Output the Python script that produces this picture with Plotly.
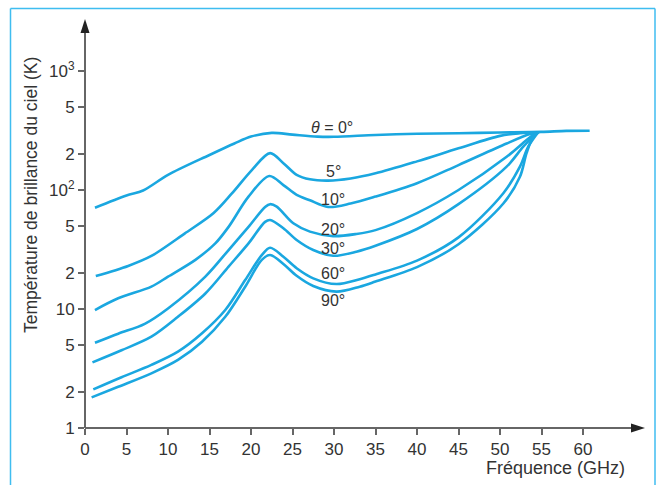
import math
import plotly.graph_objects as go

# Sky brightness temperature vs frequency for several elevation angles
freq_0 = [1.2, 5, 7, 10, 15, 18, 20, 22.5, 25, 28, 30, 35, 40, 45, 50, 55, 58, 60.8]
temp_0 = [71, 90, 99, 134, 197, 246, 281, 302, 292, 281, 280, 290, 297, 300, 304, 308, 314, 315]

freq_5 = [1.3, 5.2, 8, 12, 15.5, 17.7, 20.1, 22.3, 23.9, 25.5, 27.1, 29.3, 32, 35, 40, 45, 50, 52.4, 54.4]
temp_5 = [18.9, 23, 27.9, 43, 64, 93.5, 147, 204, 168, 134, 123, 120, 125, 138, 174, 224, 285, 300, 306]

freq_10 = [1.2, 4.0, 8, 10, 13.3, 15.7, 17.3, 19.7, 22.2, 23.9, 25.5, 27.1, 29.3, 32, 35, 40, 45, 50.8, 53.6, 54.6]
temp_10 = [9.8, 12.3, 15.4, 18.7, 25.9, 35.6, 49, 88, 131, 110, 91, 82, 72, 77, 88, 114, 162, 246, 295, 306]

freq_20 = [1.2, 4.0, 7.2, 10, 14.5, 17.3, 19.7, 21.7, 22.3, 23.1, 25.1, 27.1, 29.9, 32.7, 35, 40, 45, 50.8, 53.2, 54.4]
temp_20 = [5.2, 6.2, 7.5, 10.1, 18.7, 31.3, 49, 72, 76, 72.5, 52.5, 44.7, 41, 42.7, 46, 64, 100, 190, 263, 305]

freq_30 = [0.9, 4.4, 8, 11.2, 14.5, 17.3, 19.7, 21.7, 22.3, 23.9, 25.5, 27.5, 29.9, 32.7, 35, 40, 45, 50.8, 52.8, 54.5]
temp_30 = [3.56, 4.5, 5.85, 8.6, 13.5, 22.7, 35.6, 54, 56, 47.7, 38, 31.3, 28, 30.3, 34, 47, 76, 157, 231, 305]

freq_60 = [1.0, 4.4, 8, 11.2, 14.1, 16.9, 19.3, 21.3, 22.3, 23.9, 25.5, 27.5, 30.3, 33.1, 35, 40, 45, 50.4, 52.4, 53.4, 54.6]
temp_60 = [2.11, 2.67, 3.39, 4.38, 6.25, 9.8, 17.5, 28.4, 32.7, 27.5, 22, 18.1, 16.2, 17.8, 19.5, 25.5, 40, 94, 157, 231, 306]

freq_90 = [0.8, 4.0, 8, 11.2, 14.1, 16.9, 19.3, 21.3, 22.3, 23.9, 25.5, 27.5, 30.3, 33.1, 35, 40, 45, 50.4, 52.4, 53.2, 54, 54.7]
temp_90 = [1.81, 2.22, 2.88, 3.73, 5.3, 8.6, 15.4, 25.9, 28.4, 23.9, 19, 15.6, 14, 15.4, 17, 22.5, 35, 77, 129, 204, 281, 306]

# Curve labels: text, x, y
label_text = ["<i>θ</i> = 0°", "5°", "10°", "20°", "30°", "60°", "90°"]
label_x = [29.8, 29.9, 29.9, 29.9, 29.9, 29.9, 29.9]
label_y = [338, 143, 83.5, 46.8, 32.4, 19.7, 11.7]

x_ticks = list(range(0, 61, 5))
y_ticks = [1, 2, 5, 10, 20, 50, 100, 200, 500, 1000]
y_tick_text = ["1", "2", "5", "10", "2", "5", "10<sup>2</sup>", "2", "5", "10<sup>3</sup>"]

LINE = "#1aa7e0"
AXIS = "#666666"
TXT = "#333333"
FONT = "Liberation Sans, Arial, sans-serif"

fig = go.Figure()
series = [(freq_0, temp_0), (freq_5, temp_5), (freq_10, temp_10), (freq_20, temp_20),
          (freq_30, temp_30), (freq_60, temp_60), (freq_90, temp_90)]
for fx, ty in series:
    fig.add_trace(go.Scatter(x=fx, y=ty, mode="lines",
                             line=dict(color=LINE, width=2.6, shape="spline", smoothing=0.9),
                             showlegend=False, hoverinfo="skip"))

# annotations on a log axis take log10 positions
for t, lx, ly in zip(label_text, label_x, label_y):
    fig.add_annotation(x=lx, y=math.log10(ly), yref="y", xref="x", text=t, showarrow=False,
                       xanchor="center", yanchor="middle",
                       font=dict(family=FONT, size=16, color=TXT))

# Plot area spans pixels x 85..643, y 22..428
L, R, T, B = 85, 17, 22, 57
W, H = 660, 485
pw, ph = W - L - R, H - T - B


def px(xp):
    return (xp - L) / pw


def py(yp):
    return (H - B - yp) / ph


shapes = []
# axis lines
shapes.append(dict(type="line", xref="paper", yref="paper", x0=px(85), y0=py(428), x1=px(85), y1=py(30),
                   line=dict(color=AXIS, width=2)))
shapes.append(dict(type="line", xref="paper", yref="paper", x0=px(85), y0=py(428), x1=px(634), y1=py(428),
                   line=dict(color=AXIS, width=2)))
# arrowheads
shapes.append(dict(type="path", xref="paper", yref="paper",
                   path=f"M {px(85)} {py(19)} L {px(80.5)} {py(33)} L {px(89.5)} {py(33)} Z",
                   fillcolor="#222222", line=dict(width=0)))
shapes.append(dict(type="path", xref="paper", yref="paper",
                   path=f"M {px(645)} {py(428)} L {px(631)} {py(423.5)} L {px(631)} {py(432.5)} Z",
                   fillcolor="#222222", line=dict(width=0)))
# surrounding frame
FRAME = "#3fbdf0"
shapes.append(dict(type="line", xref="paper", yref="paper", x0=px(10.5), y0=py(8.5), x1=px(10.5), y1=py(495),
                   line=dict(color=FRAME, width=1.5)))
shapes.append(dict(type="line", xref="paper", yref="paper", x0=px(10.5), y0=py(8.5), x1=px(655), y1=py(8.5),
                   line=dict(color=FRAME, width=1.5)))
shapes.append(dict(type="line", xref="paper", yref="paper", x0=px(655), y0=py(8.5), x1=px(655), y1=py(495),
                   line=dict(color=FRAME, width=1.5)))

fig.update_layout(
    width=W, height=H,
    margin=dict(l=L, r=R, t=T, b=B),
    paper_bgcolor="white", plot_bgcolor="white",
    font=dict(family=FONT, color=TXT, size=17),
    shapes=shapes,
    xaxis=dict(range=[0, (643 - 85) / 8.3], showgrid=False, zeroline=False, showline=False,
               tickmode="array", tickvals=x_ticks, ticks="outside", ticklen=6, tickwidth=1.5,
               tickcolor=AXIS, tickfont=dict(size=17, color=TXT, family=FONT)),
    yaxis=dict(type="log", range=[0, 406 / 119], showgrid=False, zeroline=False, showline=False,
               tickmode="array", tickvals=y_ticks, ticktext=y_tick_text, ticks="outside",
               ticklen=6, tickwidth=1.5, tickcolor=AXIS,
               tickfont=dict(size=17, color=TXT, family=FONT)),
)

fig.add_annotation(xref="paper", yref="paper", x=px(31), y=py(195),
                   xanchor="center", yanchor="middle",
                   text="Température de brillance du ciel (K)", textangle=-90, showarrow=False,
                   font=dict(family=FONT, size=17.5, color=TXT))
fig.add_annotation(xref="paper", yref="paper", x=px(555), y=py(468),
                   xanchor="center", yanchor="middle",
                   text="Fréquence (GHz)", showarrow=False,
                   font=dict(family=FONT, size=18, color=TXT))

fig.write_html("out.html")
